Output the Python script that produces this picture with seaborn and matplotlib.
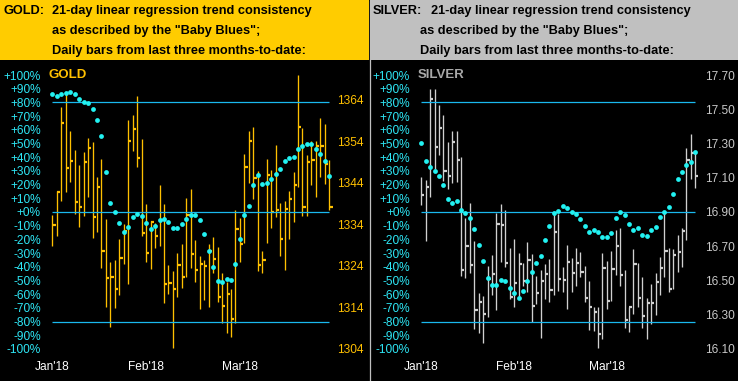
import numpy as np
import pandas as pd
import matplotlib
matplotlib.use("Agg")
import matplotlib.pyplot as plt
import seaborn as sns
from matplotlib.patches import Rectangle
from matplotlib.lines import Line2D

# ------------------------------------------------------------
# Data: daily bars (high / low / close) and "Baby Blues" (% trend consistency)
month_ticks = [0, 21, 42]
month_labels = ["Jan'18", "Feb'18", "Mar'18"]

gold_high = [1336.3, 1342.1, 1362.3, 1365.6, 1356.5, 1352.0, 1348.3, 1351.4, 1354.8, 1353.8,
             1345.4, 1349.7, 1335.3, 1325.0, 1325.4, 1330.5, 1334.0, 1359.2, 1360.4, 1365.0,
             1354.6, 1338.9, 1334.8, 1334.3, 1343.5, 1338.9, 1324.2, 1322.8, 1327.1, 1329.3,
             1340.3, 1342.6, 1330.3, 1326.4, 1325.4, 1329.3, 1331.0, 1328.6, 1322.3, 1320.2,
             1318.5, 1337.5, 1335.5, 1351.0, 1356.5, 1357.5, 1346.9, 1327.6, 1349.8, 1347.1,
             1353.2, 1339.1, 1339.7, 1342.1, 1346.7, 1370.0, 1357.2, 1350.7, 1354.1, 1354.0,
             1359.7, 1358.2, 1349.5]
gold_low = [1328.7, 1331.3, 1339.7, 1341.7, 1344.3, 1336.6, 1333.5, 1336.1, 1340.7, 1330.7,
            1332.3, 1323.4, 1314.0, 1309.4, 1313.8, 1316.9, 1324.4, 1319.7, 1351.6, 1347.9,
            1331.1, 1325.0, 1323.3, 1328.3, 1328.7, 1315.0, 1317.3, 1304.2, 1316.6, 1318.8,
            1321.4, 1323.6, 1320.2, 1313.6, 1315.8, 1314.2, 1322.2, 1315.4, 1310.2, 1307.9,
            1307.0, 1310.2, 1325.0, 1329.5, 1344.1, 1340.1, 1322.9, 1322.2, 1329.6, 1333.2,
            1335.9, 1326.5, 1323.1, 1330.6, 1334.7, 1343.1, 1336.1, 1336.1, 1343.4, 1340.7,
            1345.5, 1343.8, 1337.5]
gold_close = [1333.9, 1341.7, 1358.5, 1347.5, 1349.4, 1339.3, 1338.1, 1349.1, 1352.5, 1335.9,
              1343.1, 1327.5, 1321.2, 1321.4, 1318.5, 1325.8, 1332.5, 1354.2, 1356.9, 1350.1,
              1332.0, 1327.2, 1334.7, 1331.1, 1335.1, 1319.7, 1320.0, 1318.5, 1324.2, 1321.4,
              1336.3, 1326.9, 1323.0, 1324.5, 1324.0, 1327.5, 1325.6, 1316.6, 1314.4, 1317.3,
              1311.2, 1332.9, 1329.3, 1347.9, 1354.0, 1345.1, 1324.2, 1325.4, 1345.9, 1337.1,
              1337.5, 1330.6, 1337.7, 1340.1, 1343.5, 1357.6, 1338.1, 1349.1, 1349.5, 1352.9,
              1352.9, 1348.6, 1338.3]
gold_blues = [86.1, 84.6, 86.1, 87.0, 87.5, 86.1, 82.4, 80.2, 79.5, 75.2,
              67.2, 55.5, 29.3, 6.8, 0.2, -7.8, -14.8, -10.7, -3.4, -1.2,
              -2.7, -7.8, -12.1, -9.9, -5.6, -4.8, -7.0, -11.4, -11.4, -8.5,
              -4.8, -1.9, -1.9, -5.6, -15.8, -28.8, -40.5, -50.7, -51.4, -49.2,
              -49.9, -38.3, -19.4, -1.9, 4.6, 19.9, 27.2, 20.6, 21.3, 24.2,
              27.9, 31.5, 37.3, 39.5, 40.2, 46.1, 48.2, 49.7, 49.7, 46.1,
              42.4, 37.3, 26.4]

silver_high = [17.106, 17.086, 17.618, 17.618, 17.525, 17.466, 17.307, 17.373, 17.373, 17.222,
               16.867, 16.954, 16.733, 16.425, 16.407, 16.582, 16.646, 16.896, 16.948, 16.914,
               16.692, 16.745, 16.663, 16.605, 16.722, 16.652, 16.524, 16.564, 16.599, 16.623,
               16.890, 16.890, 16.576, 16.710, 16.634, 16.692, 16.669, 16.582, 16.495, 16.343,
               16.343, 16.663, 16.611, 16.675, 16.797, 16.809, 16.564, 16.345, 16.681, 16.605,
               16.518, 16.398, 16.479, 16.541, 16.640, 16.908, 16.692, 16.681, 16.768, 16.805,
               17.274, 17.356, 17.259]
silver_low = [16.943, 16.733, 16.985, 17.152, 17.234, 17.082, 17.036, 17.067, 17.075, 16.526,
              16.514, 16.543, 16.217, 16.194, 16.136, 16.287, 16.415, 16.328, 16.607, 16.578,
              16.392, 16.345, 16.392, 16.468, 16.433, 16.260, 16.363, 16.165, 16.392, 16.374,
              16.415, 16.438, 16.433, 16.334, 16.433, 16.468, 16.520, 16.374, 16.212, 16.206,
              16.107, 16.159, 16.334, 16.380, 16.532, 16.468, 16.223, 16.200, 16.305, 16.345,
              16.223, 16.159, 16.246, 16.299, 16.415, 16.520, 16.433, 16.450, 16.549, 16.578,
              16.735, 17.090, 17.038]
silver_close = [17.001, 17.044, 17.561, 17.282, 17.389, 17.137, 17.108, 17.311, 17.206, 16.561,
                16.700, 16.590, 16.328, 16.374, 16.305, 16.508, 16.537, 16.828, 16.822, 16.601,
                16.404, 16.485, 16.596, 16.497, 16.619, 16.351, 16.427, 16.497, 16.537, 16.444,
                16.782, 16.508, 16.500, 16.607, 16.541, 16.601, 16.549, 16.398, 16.345, 16.316,
                16.188, 16.572, 16.380, 16.566, 16.700, 16.532, 16.270, 16.345, 16.596, 16.398,
                16.293, 16.369, 16.369, 16.491, 16.572, 16.671, 16.450, 16.648, 16.665, 16.788,
                17.206, 17.247, 17.113]
silver_blues = [50.4, 37.3, 33.0, 30.1, 26.4, 19.9, 9.7, 6.8, 8.2, 1.7,
                -0.5, -4.1, -12.1, -23.8, -36.1, -48.5, -53.6, -53.6, -49.9, -50.7,
                -55.8, -59.4, -63.0, -57.9, -50.7, -44.1, -37.6, -31.8, -20.8, -9.9,
                -0.5, 1.0, 4.6, 3.2, 0.2, -1.2, -4.8, -9.9, -14.3, -12.8,
                -14.3, -17.9, -17.9, -15.0, -4.1, 0.2, -1.9, -8.5, -12.8, -11.4,
                -16.5, -17.2, -12.8, -10.7, -3.4, 0.2, 3.9, 13.3, 24.2, 29.3,
                34.4, 36.6, 43.9]

gold_price_ticks = [1304, 1314, 1324, 1334, 1344, 1354, 1364]
silver_price_ticks = [16.10, 16.30, 16.50, 16.70, 16.90, 17.10, 17.30, 17.50, 17.70]
pct_ticks = list(range(-100, 101, 10))

# ------------------------------------------------------------
# Style
sns.set_style("dark")
plt.rcParams['font.family'] = ['Liberation Sans', 'DejaVu Sans']

W, H = 738, 381
fig = plt.figure(figsize=(W / 100, H / 100), dpi=100, facecolor="black")

LINE_BLUE = "#1AB8EE"
DOT_CYAN = "#22F2F2"
LABEL_CYAN = "#2EE6F5"
PCT_LIM = 106.6


def pct_label(v):
    if v > 0:
        return "+%d%%" % v
    if v == 0:
        return "+0%"
    return "%d%%" % v


def draw_panel(x0, x_first, x_last, high, low, close, blues, center, per_pct,
               price_ticks, price_fmt, bar_color, price_color, name, name_color,
               lpad, rpad):
    # pixel box of the plotting area
    top, bottom, right = 66, 358, x_last + 6
    step = (x_last - x_first) / (len(high) - 1)
    ax = fig.add_axes([x0 / W, 1 - bottom / H, (right - x0) / W, (bottom - top) / H])
    ax2 = ax.twinx()
    xl = (-(x_first - x0) / step, len(high) - 1 + (right - x_last) / step)

    df = pd.DataFrame({"day": np.arange(len(high)), "high": high, "low": low,
                       "close": close, "blues": blues})

    # price bars on the right axis (drawn underneath)
    ax2.vlines(df["day"], df["low"], df["high"], color=bar_color, lw=0.95)
    ax2.hlines(df["close"], df["day"], df["day"] + 0.72, color=bar_color, lw=1.6)
    ax2.set_ylim(center - PCT_LIM * per_pct, center + PCT_LIM * per_pct)
    ax2.set_yticks(price_ticks)
    ax2.set_yticklabels([price_fmt % t for t in price_ticks], color=price_color, fontsize=8.6)
    ax2.tick_params(axis="y", length=0, pad=rpad)

    # trend consistency on the left axis (on top)
    ax.hlines([80, 0, -80], 0, len(high) - 1, color=LINE_BLUE, lw=0.9, zorder=1)
    sns.scatterplot(data=df, x="day", y="blues", ax=ax, color=DOT_CYAN, s=12,
                    linewidth=0, marker="o", zorder=5, legend=False)
    ax.set_ylim(-PCT_LIM, PCT_LIM)
    ax.set_yticks(pct_ticks)
    ax.set_yticklabels([pct_label(v) for v in pct_ticks], color=LABEL_CYAN, fontsize=8.6)
    ax.tick_params(axis="y", length=0, pad=lpad)
    ax.set_xticks(month_ticks)
    ax.set_xticklabels(month_labels, color="white", fontsize=8.6)
    ax.tick_params(axis="x", length=0, pad=2)
    ax.set_xlabel("")
    ax.set_ylabel("")
    for a in (ax, ax2):
        a.set_xlim(*xl)
        a.set_facecolor("black")
        a.grid(False)
        for sp in a.spines.values():
            sp.set_visible(False)
    ax.set_zorder(ax2.get_zorder() + 1)
    ax.patch.set_visible(False)

    fig.text((x0 + 4) / W, 1 - 75 / H, name, color=name_color, fontsize=9.5,
             fontweight="bold", va="center", ha="left")


# ------------------------------------------------------------
# Header bands and separator
fig.patches.append(Rectangle((0, 1 - 60 / H), 369 / W, 60 / H, transform=fig.transFigure,
                             facecolor="#FFCC00", edgecolor="none"))
fig.patches.append(Rectangle((370 / W, 1 - 60 / H), 368 / W, 60 / H, transform=fig.transFigure,
                             facecolor="#C0C0C0", edgecolor="none"))
fig.lines.append(Line2D([369.5 / W, 369.5 / W], [0, 1], transform=fig.transFigure,
                        color="#C0C0C0", lw=0.9))


def header(xa, xb, xc, label):
    kw = dict(fontsize=9.2, fontweight="bold", color="black", va="baseline")
    fig.text(xa / W, 1 - 14 / H, label, **kw)
    fig.text(xb / W, 1 - 14 / H, "21-day linear regression trend consistency", **kw)
    fig.text(xc / W, 1 - 34 / H, 'as described by the "Baby Blues";', **kw)
    fig.text(xc / W, 1 - 54 / H, "Daily bars from last three months-to-date:", **kw)


header(4, 52, 52, "GOLD:")
header(373, 431, 420, "SILVER:")

# ------------------------------------------------------------
# Panels
draw_panel(44, 52.3, 329.3, gold_high, gold_low, gold_close, gold_blues,
           1337.0, 0.33, gold_price_ticks, "%d", "#FFC000", "#FFC000",
           "GOLD", "#FFC000", 2.2, 1.5)
draw_panel(414, 421.3, 695.3, silver_high, silver_low, silver_close, silver_blues,
           16.90, 0.008, silver_price_ticks, "%.2f", "#D0D0D0", "#C8C8C8",
           "SILVER", "#A8A8A8", 2.9, 2.5)

fig.savefig("out.png", dpi=100, facecolor="black")
